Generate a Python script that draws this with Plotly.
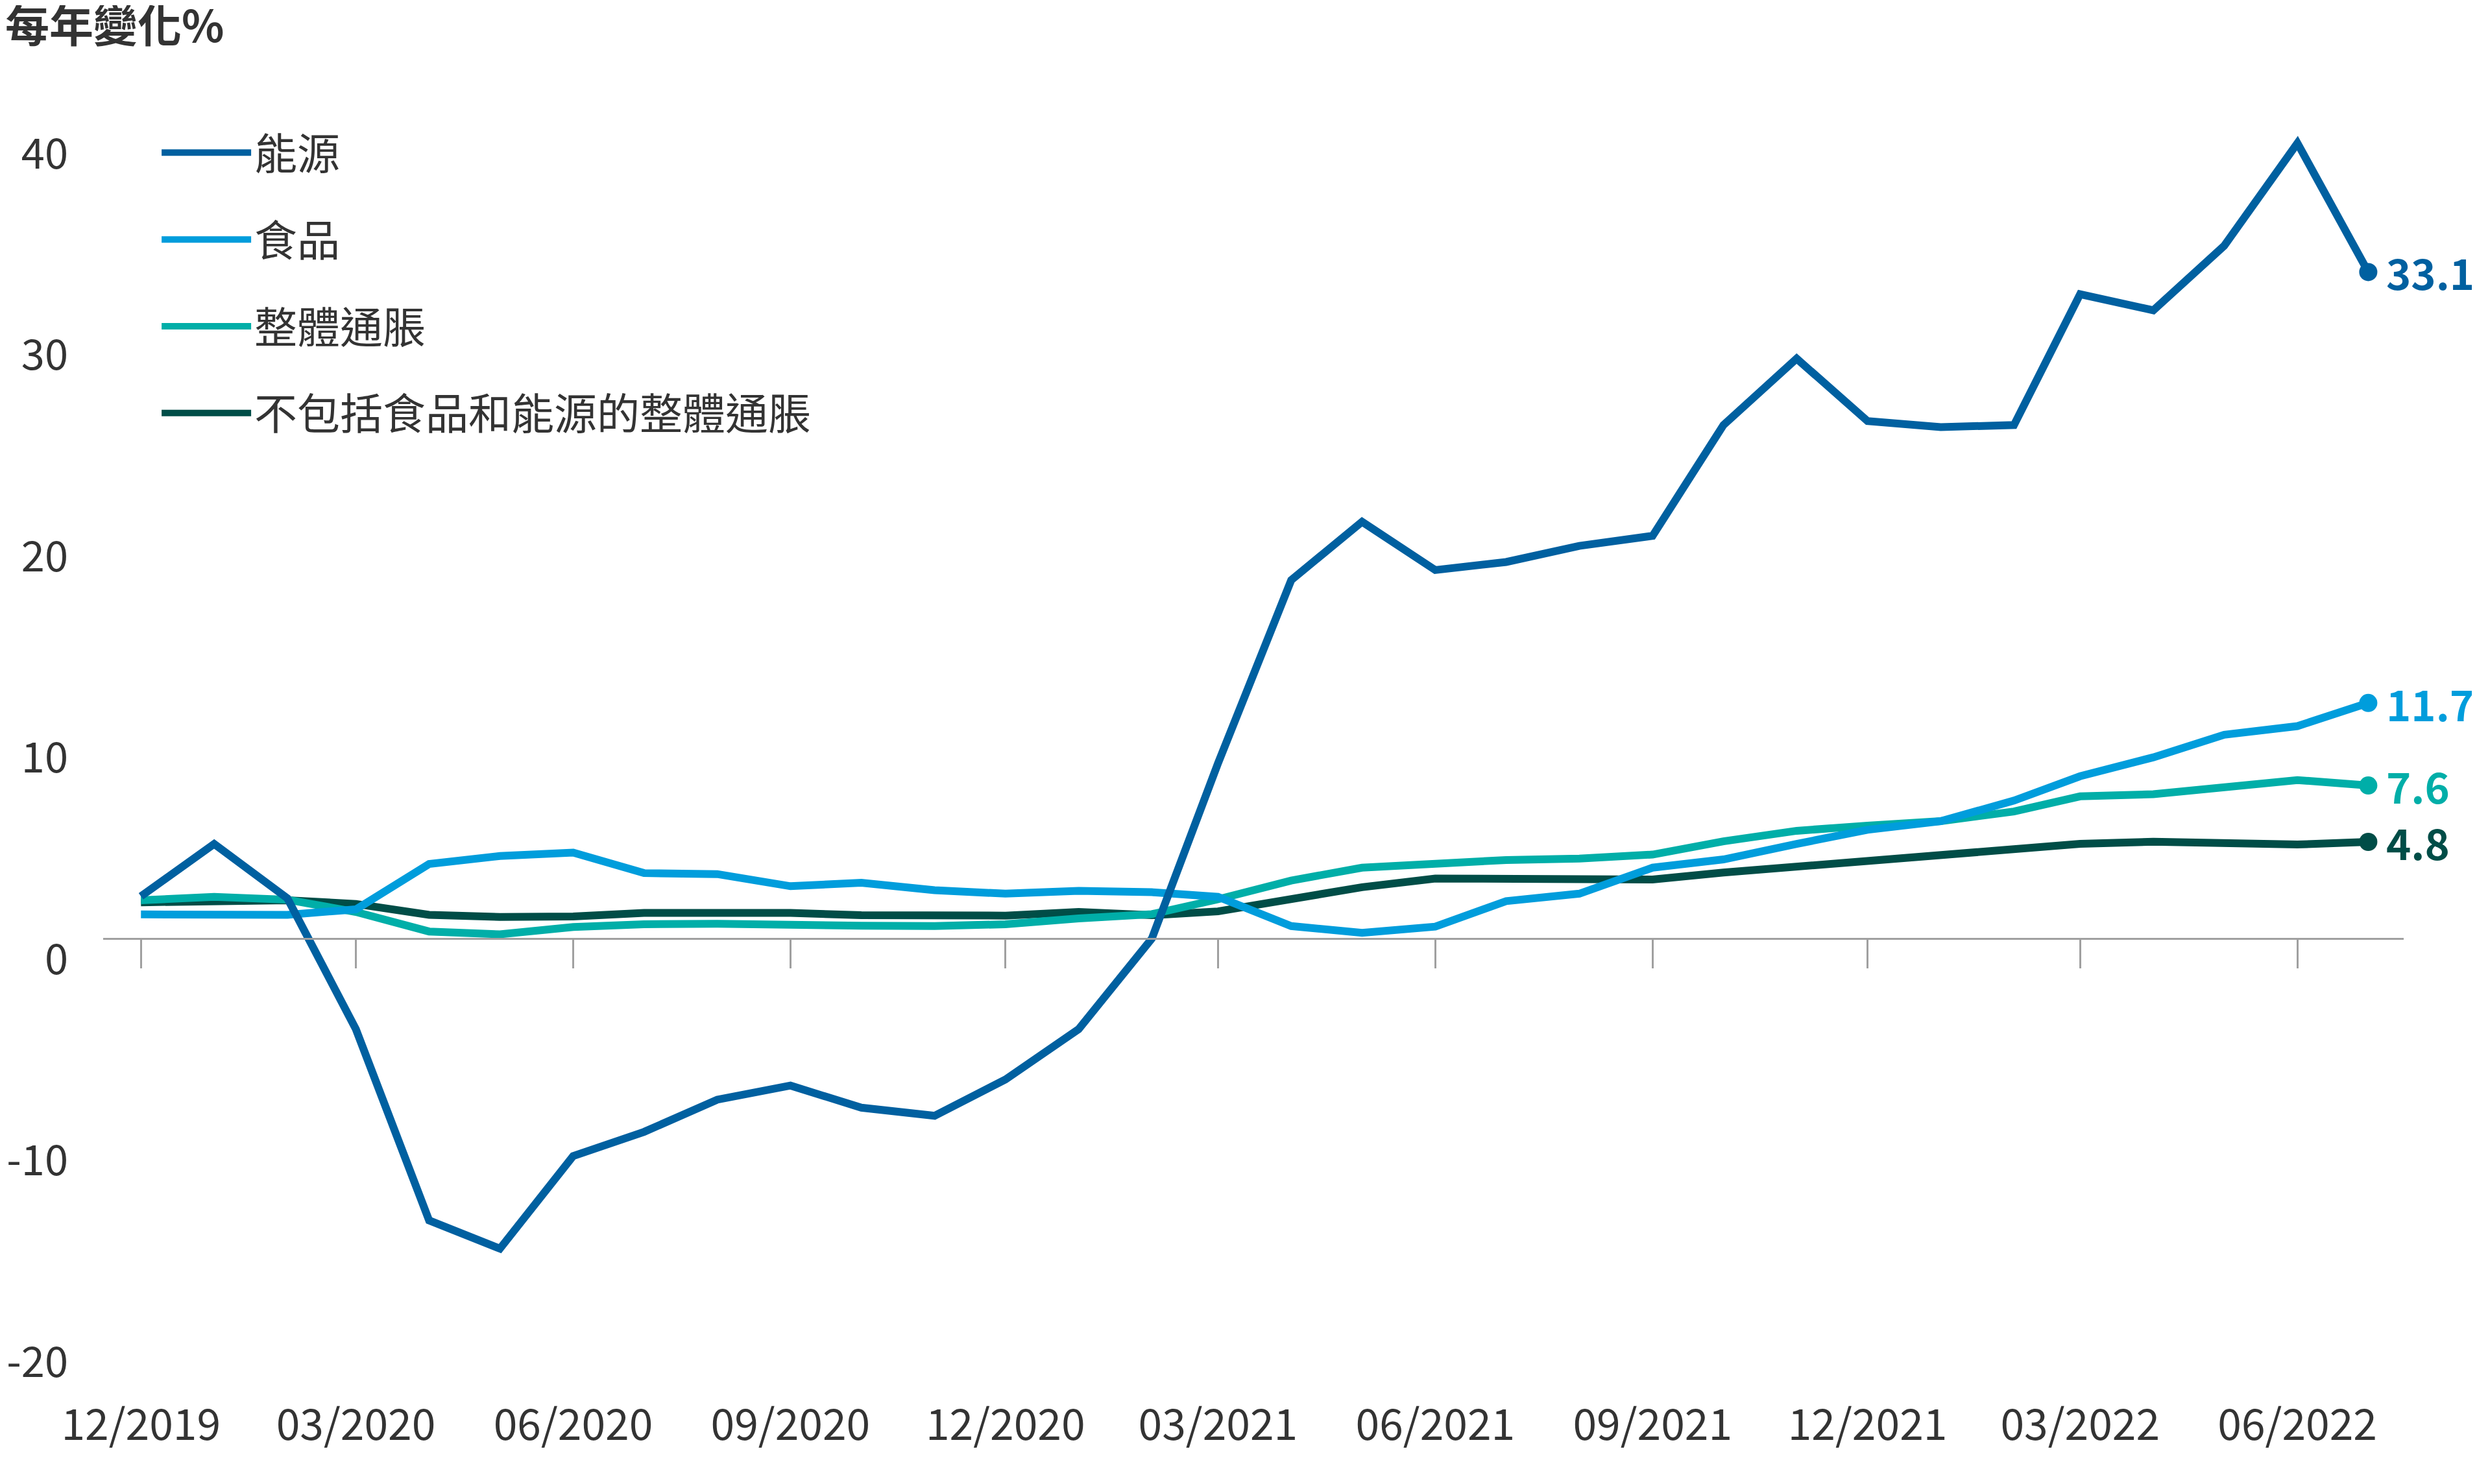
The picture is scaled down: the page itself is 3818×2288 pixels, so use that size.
import plotly.graph_objects as go
import pandas as pd

months = pd.date_range("2019-12-01", "2022-07-01", freq="MS")

names = ["能源", "食品", "整體通脹", "不包括食品和能源的整體通脹"]
colors = ["#0060a0", "#009ddc", "#00aea8", "#004d47"]

energy = [2.1, 4.7, 2.0, -4.5, -14.0, -15.4, -10.8, -9.6, -8.0, -7.3, -8.4, -8.8,
          -7.0, -4.5, 0.0, 8.7, 17.8, 20.7, 18.3, 18.7, 19.5, 20.0, 25.5, 28.8,
          25.7, 25.4, 25.5, 32.0, 31.2, 34.4, 39.5, 33.1]
food = [1.2, 1.15, 1.18, 1.45, 3.7, 4.1, 4.27, 3.25, 3.2, 2.6, 2.77, 2.4,
        2.23, 2.37, 2.3, 2.07, 0.62, 0.28, 0.59, 1.86, 2.23, 3.52, 3.93, 4.7,
        5.4, 5.83, 6.85, 8.06, 9.0, 10.12, 10.55, 11.7]
headline = [1.9, 2.07, 1.93, 1.32, 0.35, 0.21, 0.57, 0.71, 0.73, 0.73, 0.64, 0.62,
            0.71, 1.0, 1.21, 1.95, 2.88, 3.52, 3.74, 3.9, 3.97, 4.17, 4.83, 5.35,
            5.61, 5.83, 6.31, 7.06, 7.17, 7.49, 7.87, 7.6]
core = [1.8, 1.86, 1.9, 1.72, 1.18, 1.07, 1.1, 1.27, 1.27, 1.27, 1.16, 1.16,
        1.14, 1.32, 1.16, 1.35, 1.96, 2.55, 2.98, 2.96, 2.93, 2.93, 3.28, 3.57,
        3.93, 4.17, 4.51, 4.7, 4.81, 4.78, 4.67, 4.8]

series = [energy, food, headline, core]
y_ticks = [-20, -10, 0, 10, 20, 30, 40]
y_tick_text = ["-20", "-10", "0", "10", "20", "30", "40"]
y_range = [-21, 44]

FONT = "Noto Sans CJK TC"
TXT = "#333333"
GREY = "#a0a0a0"

fig = go.Figure()

# draw from back to front so energy ends up on top, legend order kept by rank
for k in [3, 2, 1, 0]:
    fig.add_trace(go.Scatter(
        x=months, y=series[k], mode="lines", name=names[k],
        line=dict(color=colors[k], width=12),
        legendgroup=names[k], legendrank=k + 1,
        cliponaxis=False,
    ))
    fig.add_trace(go.Scatter(
        x=[months[-1]], y=[series[k][-1]], mode="markers",
        marker=dict(color=colors[k], size=28),
        showlegend=False, legendgroup=names[k], cliponaxis=False,
    ))
    fig.add_annotation(
        x=months[-1], y=series[k][-1], text="<b>%.1f</b>" % series[k][-1],
        showarrow=False, xanchor="left", yanchor="middle", xshift=26,
        font=dict(family=FONT, size=65, color=colors[k]),
    )

fig.update_layout(
    width=3818, height=2288,
    margin=dict(l=151, r=121, t=73, b=197, autoexpand=False),
    plot_bgcolor="white", paper_bgcolor="white",
    font=dict(family=FONT, color=TXT),
    title=dict(text="<b>每年變化%</b>", x=0.0, xref="container", xanchor="left",
               y=0.996, yref="container", yanchor="top",
               font=dict(family=FONT, size=68, color=TXT)),
    legend=dict(x=0.024, y=0.948, xanchor="left", yanchor="top",
                font=dict(family=FONT, size=66, color=TXT),
                itemwidth=138, tracegroupgap=45, traceorder="grouped",
                bgcolor="rgba(0,0,0,0)"),
    showlegend=True,
)

fig.update_xaxes(
    range=["2019-11-15", "2022-07-16"],
    anchor="free", position=(0 - y_range[0]) / (y_range[1] - y_range[0]),
    showline=True, linecolor=GREY, linewidth=3,
    ticks="outside", ticklen=44, tickwidth=3, tickcolor=GREY,
    tick0="2019-12-01", dtick="M3", tickformat="%m/%Y", tickangle=0,
    ticklabelstandoff=648,
    tickfont=dict(family=FONT, size=66, color=TXT),
    showgrid=False, zeroline=False, automargin=False,
)
fig.update_yaxes(
    range=y_range, tickvals=y_ticks, ticktext=y_tick_text,
    showgrid=False, zeroline=False, showline=False, ticks="",
    ticklabelshift=32, ticklabelstandoff=53,
    tickfont=dict(family=FONT, size=65, color=TXT),
    automargin=False,
)

fig.write_html("out.html")
